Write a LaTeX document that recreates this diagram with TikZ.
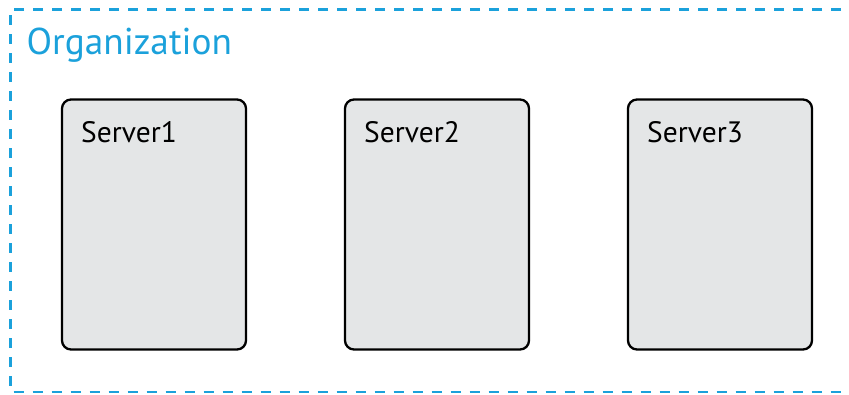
\documentclass[tikz,border=0pt]{standalone}
\usepackage{fontspec}
\setmainfont{PT Sans}
\definecolor{orgblue}{HTML}{1BA1DB}
\definecolor{srvfill}{HTML}{E4E6E7}
\begin{document}
\begin{tikzpicture}[x=1pt,y=-1pt,
  orgframe/.style={draw=orgblue,line width=2.2pt,dash pattern=on 10pt off 9pt},
  srvbox/.style={draw=black,line width=2.3pt,fill=srvfill,rounded corners=9pt},
  srvlabel/.style={anchor=base west,inner sep=0pt,font=\fontsize{29.5}{32}\selectfont},
  orglabel/.style={anchor=base west,inner sep=0pt,text=orgblue,font=\fontsize{37.3}{42}\selectfont}]
\useasboundingbox (0,0) rectangle (849,394);
\draw[orgframe] (860,9.5) -- (10.5,9.5) -- (10.5,392) -- (860,392);
\node[orglabel] (org) at (26.5,54) {Organization};
\foreach \i/\x in {1/62,2/345,3/628}{
  \draw[srvbox] (\x,99.5) rectangle ++(184,250) coordinate (s\i);
  \node[srvlabel] (l\i) at (\x+19,142) {Server\i};
}
\end{tikzpicture}
\end{document}
